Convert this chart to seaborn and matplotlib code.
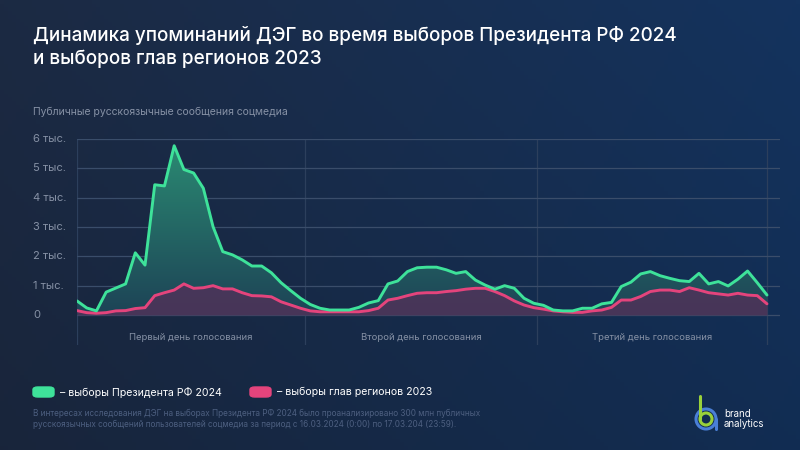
import numpy as np
import pandas as pd
import matplotlib.pyplot as plt
import seaborn as sns
from matplotlib.colors import LinearSegmentedColormap, to_rgb
from matplotlib.patches import FancyBboxPatch, Circle
from matplotlib.transforms import blended_transform_factory

# =============================
# DATA (thousands of messages, hourly, 3 voting days)
# =============================
president_2024 = [
    0.48, 0.24, 0.14, 0.78, 0.92, 1.06, 2.12, 1.70, 4.44, 4.40,
    5.77, 4.96, 4.84, 4.32, 3.01, 2.16, 2.05, 1.88, 1.67, 1.67,
    1.44, 1.10, 0.83, 0.57, 0.36, 0.23, 0.17, 0.17, 0.17, 0.26,
    0.41, 0.49, 1.06, 1.16, 1.48, 1.61, 1.63, 1.63, 1.54, 1.42,
    1.48, 1.19, 1.02, 0.88, 1.00, 0.91, 0.57, 0.40, 0.33, 0.17,
    0.14, 0.14, 0.23, 0.23, 0.38, 0.43, 0.97, 1.12, 1.40, 1.48,
    1.34, 1.25, 1.17, 1.14, 1.42, 1.06, 1.14, 0.99, 1.22, 1.50,
    1.10, 0.68,
]
regions_2023 = [
    0.15, 0.08, 0.06, 0.08, 0.14, 0.15, 0.22, 0.25, 0.66, 0.76,
    0.85, 1.06, 0.91, 0.93, 1.00, 0.89, 0.89, 0.76, 0.66, 0.65,
    0.62, 0.45, 0.34, 0.23, 0.14, 0.11, 0.11, 0.11, 0.11, 0.11,
    0.15, 0.23, 0.51, 0.57, 0.66, 0.74, 0.76, 0.76, 0.80, 0.83,
    0.88, 0.91, 0.91, 0.80, 0.66, 0.48, 0.34, 0.25, 0.20, 0.14,
    0.11, 0.09, 0.09, 0.14, 0.17, 0.26, 0.51, 0.51, 0.63, 0.80,
    0.85, 0.85, 0.80, 0.93, 0.85, 0.76, 0.72, 0.68, 0.74, 0.68,
    0.66, 0.38,
]
hours = list(range(len(president_2024)))

y_ticks = [0, 1, 2, 3, 4, 5, 6]
y_labels = ['0', '1 тыс.', '2 тыс.', '3 тыс.', '4 тыс.', '5 тыс.', '6 тыс.']
day_bounds = [0, 23.5, 47.3, 71]
day_labels = ['Первый день голосования', 'Второй день голосования', 'Третий день голосования']

# =============================
# STYLE
# =============================
GREEN = '#3ee29a'
PINK = '#e4447c'
GRID = '#3a4d6a'
MUTED = '#8691a5'

sns.set_theme(style='dark')
plt.rcParams['font.family'] = ['Inter', 'DejaVu Sans']

W, H = 800, 450
fig = plt.figure(figsize=(8, 4.5), dpi=100)


def px(x, y):
    # pixel (top-left origin) -> figure fraction
    return x / W, 1 - y / H


# background gradient
bg = fig.add_axes([0, 0, 1, 1], zorder=-10)
c_left = np.array(to_rgb('#1c2a43'))
c_right = np.array(to_rgb('#14335e'))
gx = np.linspace(0, 1, 200)[None, :, None]
gy = np.linspace(0, 1, 120)[:, None, None]
img = c_left * (1 - gx) + c_right * gx
img = img * (1 - 0.12 * gy)
bg.imshow(img, aspect='auto', extent=[0, 1, 0, 1], origin='upper')
bg.set_axis_off()

# main axes: x 77..780 px, y 139..345 px
x0, x1, y0, y1 = 77, 780, 139, 345
ax = fig.add_axes([x0 / W, 1 - y1 / H, (x1 - x0) / W, (y1 - y0) / H])
ax.patch.set_alpha(0)
ax.set_xlim(0, 71 * (x1 - x0) / 690)
ax.set_ylim(-30 / 29.33, 6.0)

df = pd.DataFrame({'hour': hours, 'pres': president_2024, 'reg': regions_2023})

# green area with vertical gradient
poly = ax.fill_between(df['hour'], 0, df['pres'], color='none', lw=0)
g_cmap = LinearSegmentedColormap.from_list('g', ['#1d4356', '#2b8c73'])
grad = np.linspace(0, 1, 256)[:, None]
im = ax.imshow(grad, cmap=g_cmap, aspect='auto', origin='lower',
               extent=[0, 71, 0, 6.0], zorder=1)
im.set_clip_path(poly.get_paths()[0], transform=ax.transData)

# pink area
ax.fill_between(df['hour'], 0, df['reg'], color='#4a3559', lw=0, zorder=2, alpha=0.95)

sns.lineplot(data=df, x='hour', y='pres', color=GREEN, lw=2.1, ax=ax, zorder=4)
sns.lineplot(data=df, x='hour', y='reg', color=PINK, lw=2.1, ax=ax, zorder=3)

# grid
for t in y_ticks:
    ax.axhline(t, color=GRID, lw=0.9, zorder=0.5)
for b in day_bounds:
    ax.axvline(b, color='#2c3f5c', lw=0.9, zorder=0.4)

ax.set_xticks([])
ax.set_yticks([])
ax.set_xlabel('')
ax.set_ylabel('')
for s in ax.spines.values():
    s.set_visible(False)

# y labels at left of the figure
ytr = blended_transform_factory(fig.transFigure, ax.transData)
for t, lab in zip(y_ticks, y_labels):
    ax.text(33 / W, t, lab, transform=ytr, ha='left', va='center',
            color=MUTED, fontsize=8, clip_on=False)

# day labels
for i, lab in enumerate(day_labels):
    mid = (day_bounds[i] + day_bounds[i + 1]) / 2
    ax.text(mid, -0.78, lab, ha='center', va='center', color=MUTED, fontsize=6.8)

# titles
fig.text(*px(33, 47), 'Динамика упоминаний ДЭГ во время выборов Президента РФ 2024\nи выборов глав регионов 2023',
         color='white', fontsize=13.6, fontweight='medium', ha='left', va='center', linespacing=1.3)
fig.text(*px(33, 112), 'Публичные русскоязычные сообщения соцмедиа', color=MUTED, fontsize=7.5,
         ha='left', va='center')

# legend
for (lx, col, txt) in [(33, GREEN, '– выборы Президента РФ 2024'),
                       (250, PINK, '– выборы глав регионов 2023')]:
    fx, fy = px(lx, 397)
    fig.patches.append(FancyBboxPatch((fx, fy), 21 / W, 10 / H,
                                      boxstyle='round,pad=0,rounding_size=0.006',
                                      transform=fig.transFigure, color=col))
    fig.text(*px(lx + 27, 392), txt, color='white', fontsize=7.6, ha='left', va='center')

# footnote
fig.text(*px(33, 419), 'В интересах исследования ДЭГ на выборах Президента РФ 2024 было проанализировано 300 млн публичных\n'
         'русскоязычных сообщений пользователей соцмедиа за период с 16.03.2024 (0:00) по 17.03.204 (23:59).',
         color='#4d5f80', fontsize=5.9, ha='left', va='center', linespacing=1.3)

# logo
lax = fig.add_axes([693 / W, 1 - 432 / H, 30 / W, 40 / H])
lax.set_xlim(0, 30)
lax.set_ylim(0, 40)
lax.set_aspect('equal')
lax.set_axis_off()
lax.add_patch(Circle((13, 13), 10, fill=False, ec='#4a7fd6', lw=2.2))
lax.add_patch(Circle((13, 13), 6, fill=False, ec='#9ad13a', lw=2.2))
lax.plot([7, 7], [13, 36], color='#9ad13a', lw=2.2, solid_capstyle='round')
lax.plot([23, 23], [3, 13], color='#4a7fd6', lw=2.2)
fig.text(*px(724, 419), 'brand\nanalytics', color='white', fontsize=7, ha='left', va='center',
         linespacing=1.0)

fig.savefig('out.png', dpi=100)
